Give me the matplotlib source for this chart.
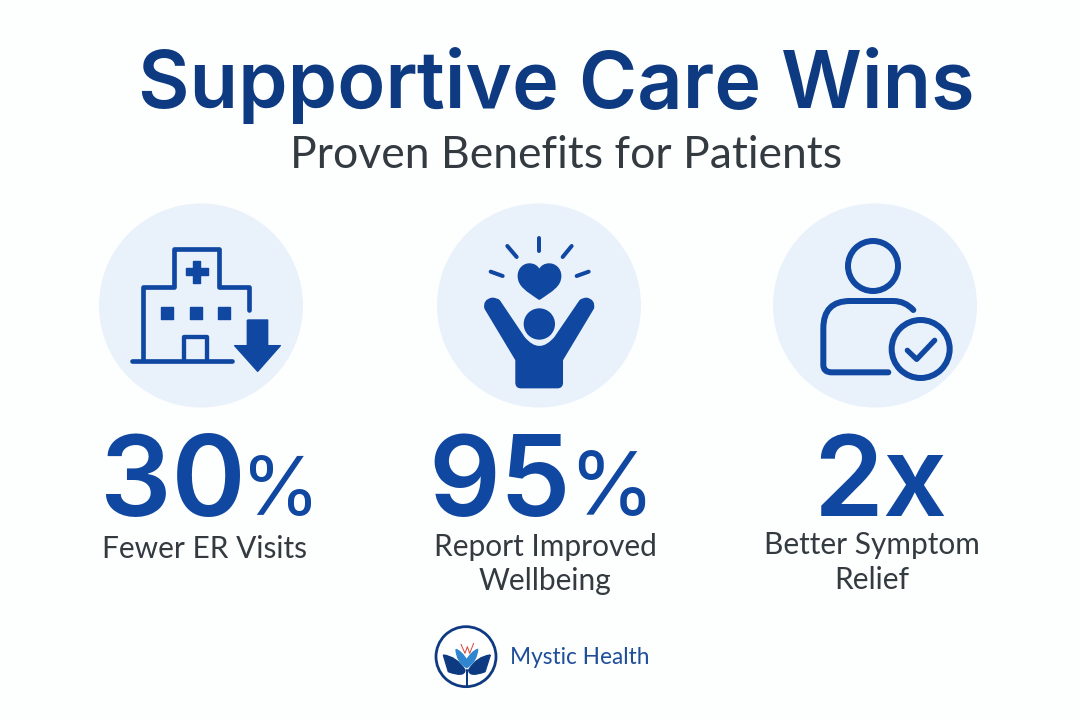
import matplotlib
matplotlib.use("Agg")
import matplotlib.pyplot as plt
from matplotlib.patches import Circle, PathPatch
from matplotlib.path import Path

title = "Supportive Care Wins"
subtitle = "Proven Benefits for Patients"
stat_numbers = ["30", "95", "2x"]
stat_units = ["%", "%", ""]
stat_labels = ["Fewer ER Visits", "Report Improved\nWellbeing", "Better Symptom\nRelief"]
brand = "Mystic Health"

NAVY = "#0e3a82"
BLUE = "#0f47a1"
PALE = "#e9f1fb"
GREY = "#333a40"

fig = plt.figure(figsize=(10.8, 7.2), dpi=100, facecolor="#fdfefe")
ax = fig.add_axes([0, 0, 1, 1])
ax.set_xlim(0, 1080)
ax.set_ylim(720, 0)
ax.axis("off")
PT = 72 / 100

def tf(x0, y0):
    return lambda p: (x0 + p[0] / 3, y0 + p[1] / 3)

def line(t, pts, w=14, c=BLUE, curves=None, z=3):
    q = [t(p) for p in pts]
    codes = curves or ([Path.MOVETO] + [Path.LINETO] * (len(q) - 1))
    ax.add_patch(PathPatch(Path(q, codes), fill=False, ec=c, lw=w / 3 * PT,
                           capstyle="round", joinstyle="round", zorder=z))

def fill(t, pts, c=BLUE, codes=None, z=3):
    ax.add_patch(PathPatch(Path([t(p) for p in pts], codes), fc=c, ec=c, lw=1.0,
                           joinstyle="round", zorder=z))

M, L, C, C4 = Path.MOVETO, Path.LINETO, Path.CURVE3, Path.CURVE4

# discs
for cx in (201, 539, 875):
    ax.add_patch(Circle((cx, 305.5), 102, fc=PALE, ec="none", zorder=1))

# hospital
t = tf(90, 200)
line(t, [(160, 480), (160, 262), (252, 262), (252, 146), (387, 146), (387, 262), (478, 262), (478, 330)])
line(t, [(125, 483), (425, 483)])
line(t, [(283, 478), (283, 411), (350, 411), (350, 478)], w=13)
fill(t, [(309, 182), (331, 182), (331, 204), (353, 204), (353, 226), (331, 226), (331, 248),
         (309, 248), (309, 226), (287, 226), (287, 204), (309, 204), (309, 182)])
for wx in (231, 317, 403):
    fill(t, [(wx - 18, 320), (wx + 18, 320), (wx + 18, 356), (wx - 18, 356), (wx - 18, 320)])
fill(t, [(472, 360), (533, 360), (533, 437), (571, 437), (503, 514), (434, 437), (472, 437), (472, 360)])

# person with heart
t = tf(430, 200)
for a, b in [((328, 114), (328, 153)), ((232, 138), (260, 171)), ((425, 138), (398, 171)),
             ((182, 215), (218, 228)), ((476, 215), (440, 228))]:
    line(t, [a, b], w=12)
fill(t, [(328, 298), (290, 272), (265, 258), (265, 228), (265, 205), (282, 192), (298, 192),
         (312, 192), (322, 198), (328, 210), (334, 198), (344, 192), (358, 192),
         (374, 192), (392, 205), (392, 228), (392, 258), (366, 272), (328, 298)],
     codes=[M] + [C4] * 18)
ax.add_patch(Circle(t((328, 372)), 47 / 3, fc=BLUE, ec="none", zorder=3))
fill(t, [(165, 325), (160, 300), (186, 295), (200, 295), (208, 302), (282, 412), (328, 468), (375, 412),
         (450, 302), (458, 295), (470, 295), (495, 300), (490, 325), (397, 480), (397, 548), (397, 563), (382, 563),
         (273, 563), (258, 563), (258, 548), (258, 480), (165, 325)],
     codes=[M, C, C, C, C, L, C, C, L, C, C, C, C, L, L, C, C, L, C, C, L, L])

# person with check
t = tf(765, 200)
ax.add_patch(Circle(t((324, 198)), 75 / 3, fc="none", ec=BLUE, lw=18 / 3 * PT, zorder=3))
line(t, [(445, 330), (420, 303), (385, 303), (255, 303), (175, 303), (175, 385), (175, 495),
         (175, 517), (200, 517), (370, 517)], w=18,
     curves=[M, C, C, L, C, C, L, C, C, L])
ax.add_patch(Circle(t((467, 447)), 87 / 3, fc=PALE, ec=BLUE, lw=18 / 3 * PT, zorder=4))
line(t, [(427, 451), (455, 478), (509, 421)], w=16, z=5)

# stats
num_x = [103, 431, 880]
unit_x = [241, 568, 0]
unit_size = [58, 63, 0]
label_x = [205, 545, 872]
label_y = [548.5, 564, 562.5]
for n, u, l, nx, ux, us, lx, ly in zip(stat_numbers, stat_units, stat_labels, num_x, unit_x, unit_size, label_x, label_y):
    if u:
        ax.text(nx - 3, 516, n, fontsize=81, fontweight="semibold", family="Inter", color=BLUE, ha="left", va="baseline")
        ax.text(ux, 515, u, fontsize=us, family="Inter", color=BLUE, ha="left", va="baseline")
    else:
        ax.text(nx, 516, n, fontsize=81, fontweight="semibold", family="Inter", color=BLUE, ha="center", va="baseline")
    ax.text(lx, ly, l, fontsize=21.5, family="Lato", color=GREY, ha="center", va="center", linespacing=1.3)

ax.text(556, 108, title, fontsize=57, fontweight="semibold", family="Inter", color=NAVY, ha="center", va="baseline")
ax.text(566, 155, subtitle, fontsize=32, family="Lato", color=GREY, ha="center", va="center")

# logo
t = tf(425, 615)
ax.add_patch(Circle(t((123, 125)), 90 / 3, fc="white", ec=NAVY, lw=2.0, zorder=3))
line(t, [(125, 165), (125, 216)], w=6, c=NAVY)
fill(t, [(55, 120), (95, 125), (120, 165), (118, 188), (70, 170), (55, 120)], c=NAVY, codes=[M, C, C, C, C, L])
fill(t, [(196, 120), (155, 125), (131, 165), (133, 188), (180, 170), (196, 120)], c=NAVY, codes=[M, C, C, C, C, L])
fill(t, [(93, 103), (110, 110), (125, 135), (140, 110), (158, 103), (155, 140), (125, 158), (95, 140), (93, 103)],
     c="#2f86cf", codes=[M, C, C, C, C, C, C, C, C])
line(t, [(108, 88), (120, 115), (127, 95), (134, 115), (146, 85)], w=3, c="#d9483b")
ax.text(510, 657, brand, fontsize=16.3, family="Lato", color="#1f4e9b", ha="left", va="center")

fig.savefig("out.png", dpi=100, facecolor=fig.get_facecolor())
